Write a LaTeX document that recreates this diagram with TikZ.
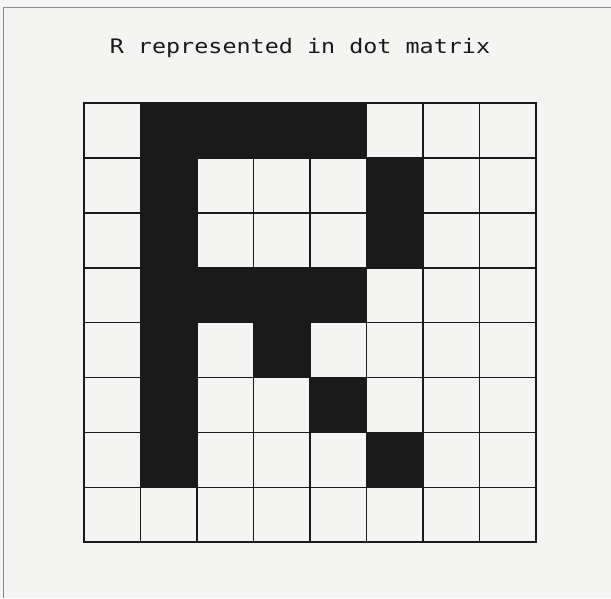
\documentclass[tikz,border=0pt]{standalone}
\usepackage{fontspec}
\newfontfamily\dotfont[FakeStretch=1.17]{DejaVu Sans Mono}
\usetikzlibrary{positioning}
\definecolor{Paper}{HTML}{F4F4F2}
\definecolor{Ink}{HTML}{1A1A1A}
\definecolor{Edge}{HTML}{8A8A8A}
\tikzset{
  cell/.style={draw=Ink,line width=1.6pt,minimum width=56.5pt,minimum height=54.9pt,inner sep=0pt,outer sep=0pt},
  dot/.style={cell,fill=Ink},
  heading/.style={font=\dotfont\fontsize{20}{24}\selectfont,text=Ink,inner sep=0pt},
  frame/.style={draw=Edge,line width=1pt},
}
\begin{document}
\begin{tikzpicture}[x=1pt,y=-1pt]
  \fill[Paper] (0,0) rectangle (611,598);
  \useasboundingbox (0,0) rectangle (611,598);
  \draw[frame] (3,598) -- (3,7) -- (611,7);
  \node[heading] (title) at (300,48) {R represented in dot matrix};
  % 8x8 matrix, 1 = printed dot
  \foreach \r/\bits in {0/{0,1,1,1,1,0,0,0},1/{0,1,0,0,0,1,0,0},2/{0,1,0,0,0,1,0,0},3/{0,1,1,1,1,0,0,0},
                        4/{0,1,0,1,0,0,0,0},5/{0,1,0,0,1,0,0,0},6/{0,1,0,0,0,1,0,0},7/{0,0,0,0,0,0,0,0}}
    \foreach \b [count=\c from 0] in \bits {
      \ifnum\b=1
        \node[dot] (c-\r-\c) at (112.25+56.5*\c,130.45+54.9*\r) {};
      \else
        \node[cell] (c-\r-\c) at (112.25+56.5*\c,130.45+54.9*\r) {};
      \fi
    }
\end{tikzpicture}
\end{document}
